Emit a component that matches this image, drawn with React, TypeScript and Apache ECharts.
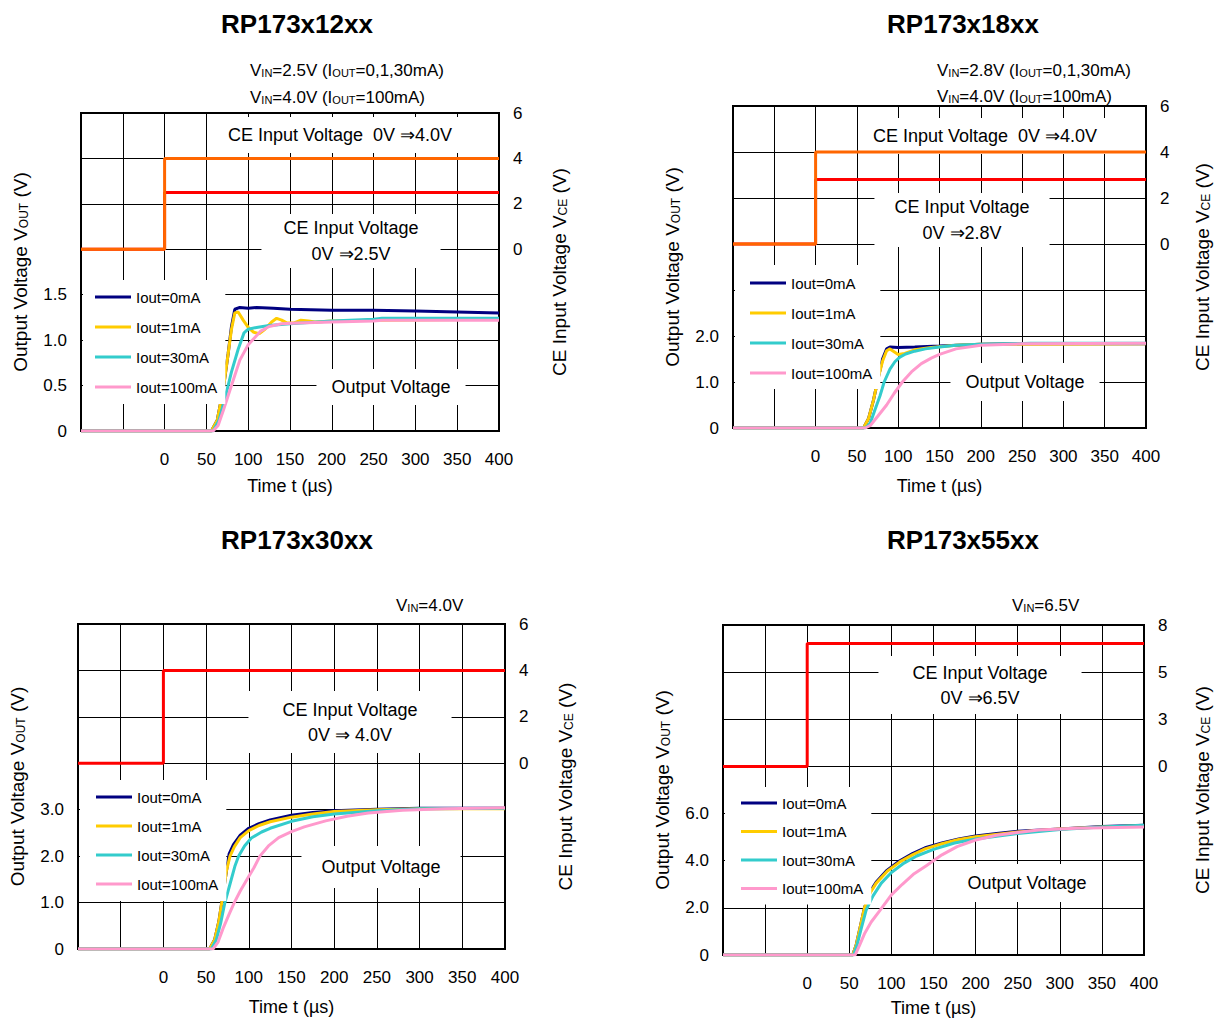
import React, { useEffect, useRef } from "react";
import * as echarts from "echarts";

const FONT = 'Arial, "Liberation Sans", Helvetica, sans-serif';

// ---------- data ----------
const TITLES = ["RP173x12xx", "RP173x18xx", "RP173x30xx", "RP173x55xx"];
const SERIES_NAMES = ["Iout=0mA", "Iout=1mA", "Iout=30mA", "Iout=100mA"];
const SERIES_COLORS = ["#000080", "#FFCC00", "#33CCCC", "#FF99CC"];

const T_MIN = -100;
const T_MAX = 400;
const T_STEP = 50;
const CE_STEP_TIME = 0;

// CE input levels per panel
const P1_CE_LEVELS = [2.5, 4.0];
const P2_CE_LEVELS = [2.8, 4.0];
const P3_CE_LEVELS = [4.0];
const P4_CE_LEVELS = [6.95];
const CE_COLORS_TWO = ["#FF0000", "#FF6600"];
const CE_COLORS_ONE = ["#FF0000"];

// Panel 1 : RP173x12xx  [time us, Vout V]
const P1_I0 = [[-100, 0], [56, 0], [63, 0.12], [70, 0.45], [76, 0.85], [80, 1.15], [84, 1.34], [90, 1.36], [100, 1.35], [110, 1.36], [130, 1.35], [150, 1.34], [200, 1.33], [250, 1.33], [300, 1.32], [350, 1.31], [400, 1.3]];
const P1_I1 = [[-100, 0], [56, 0], [63, 0.12], [70, 0.45], [76, 0.85], [80, 1.12], [84, 1.3], [88, 1.31], [94, 1.22], [100, 1.14], [106, 1.09], [113, 1.07], [120, 1.12], [128, 1.2], [134, 1.24], [140, 1.22], [146, 1.19], [155, 1.19], [163, 1.22], [172, 1.21], [180, 1.2], [200, 1.21], [250, 1.22], [400, 1.23]];
const P1_I30 = [[-100, 0], [58, 0], [65, 0.12], [72, 0.35], [80, 0.65], [88, 0.9], [95, 1.08], [100, 1.12], [110, 1.14], [125, 1.16], [150, 1.18], [200, 1.21], [250, 1.23], [260, 1.24], [400, 1.24]];
const P1_I100 = [[-100, 0], [58, 0], [64, 0.06], [70, 0.22], [80, 0.5], [90, 0.78], [100, 0.95], [108, 1.03], [115, 1.1], [125, 1.15], [140, 1.18], [160, 1.19], [200, 1.2], [250, 1.21], [260, 1.22], [400, 1.22]];

// Panel 2 : RP173x18xx
const P2_I0 = [[-100, 0], [58, 0], [64, 0.2], [70, 0.6], [76, 1.1], [81, 1.5], [86, 1.72], [90, 1.76], [100, 1.75], [120, 1.76], [150, 1.78], [200, 1.82], [250, 1.83], [400, 1.83]];
const P2_I1 = [[-100, 0], [58, 0], [64, 0.2], [70, 0.6], [76, 1.1], [81, 1.45], [86, 1.68], [90, 1.72], [95, 1.66], [100, 1.6], [108, 1.62], [120, 1.7], [140, 1.75], [170, 1.8], [200, 1.82], [400, 1.83]];
const P2_I30 = [[-100, 0], [60, 0], [66, 0.1], [72, 0.4], [78, 0.7], [83, 1.0], [90, 1.28], [96, 1.44], [102, 1.54], [109, 1.61], [120, 1.67], [133, 1.72], [150, 1.76], [170, 1.8], [200, 1.82], [260, 1.84], [400, 1.84]];
const P2_I100 = [[-100, 0], [60, 0], [66, 0.05], [75, 0.25], [86, 0.5], [95, 0.75], [105, 1.0], [116, 1.22], [128, 1.4], [140, 1.52], [150, 1.6], [170, 1.72], [200, 1.8], [250, 1.83], [400, 1.84]];

// Panel 3 : RP173x30xx
const P3_I0 = [[-100, 0], [54, 0], [60, 0.2], [65, 0.6], [70, 1.2], [74, 1.7], [77, 2.05], [82, 2.25], [90, 2.45], [100, 2.6], [112, 2.7], [125, 2.78], [150, 2.88], [175, 2.94], [200, 2.98], [250, 3.01], [300, 3.03], [400, 3.03]];
const P3_I1 = [[-100, 0], [54, 0], [60, 0.2], [65, 0.6], [70, 1.2], [74, 1.7], [78, 2.0], [83, 2.2], [90, 2.4], [100, 2.55], [112, 2.66], [125, 2.74], [150, 2.84], [175, 2.91], [200, 2.96], [250, 3.0], [300, 3.02], [400, 3.02]];
const P3_I30 = [[-100, 0], [56, 0], [62, 0.2], [67, 0.55], [72, 1.0], [78, 1.4], [84, 1.8], [88, 2.0], [95, 2.22], [103, 2.39], [115, 2.52], [125, 2.6], [150, 2.75], [175, 2.85], [200, 2.91], [250, 2.98], [300, 3.02], [400, 3.03]];
const P3_I100 = [[-100, 0], [58, 0], [64, 0.15], [70, 0.45], [77, 0.75], [83, 1.0], [90, 1.25], [98, 1.5], [106, 1.75], [113, 2.0], [123, 2.22], [135, 2.4], [150, 2.53], [165, 2.63], [190, 2.76], [215, 2.86], [240, 2.93], [280, 2.99], [330, 3.02], [400, 3.04]];

// Panel 4 : RP173x55xx
const P4_I0 = [[-100, 0], [54, 0], [58, 0.4], [63, 1.2], [68, 2.0], [75, 2.7], [82, 3.1], [95, 3.6], [110, 4.0], [125, 4.3], [140, 4.55], [160, 4.75], [180, 4.92], [200, 5.05], [225, 5.15], [250, 5.25], [300, 5.35], [350, 5.45], [400, 5.5]];
const P4_I1 = [[-100, 0], [54, 0], [58, 0.4], [63, 1.2], [68, 2.0], [75, 2.65], [82, 3.05], [95, 3.55], [110, 3.95], [125, 4.25], [140, 4.5], [160, 4.72], [180, 4.9], [200, 5.02], [250, 5.22], [300, 5.35], [350, 5.43], [400, 5.48]];
const P4_I30 = [[-100, 0], [55, 0], [59, 0.4], [64, 1.1], [70, 1.9], [78, 2.5], [88, 3.05], [100, 3.5], [115, 3.9], [130, 4.2], [150, 4.48], [175, 4.75], [200, 4.92], [250, 5.15], [300, 5.32], [350, 5.43], [400, 5.5]];
const P4_I100 = [[-100, 0], [57, 0], [62, 0.4], [68, 0.9], [76, 1.4], [86, 1.87], [100, 2.55], [113, 3.0], [127, 3.45], [141, 3.78], [160, 4.25], [178, 4.6], [200, 4.88], [225, 5.08], [250, 5.2], [275, 5.3], [320, 5.38], [400, 5.43]];

// axis scales
const P1_VOUT_AXIS = { min: 0, max: 3.5, interval: 0.5, labelMax: 1.5 };
const P2_VOUT_AXIS = { min: 0, max: 7, interval: 1, labelMax: 2 };
const P3_VOUT_AXIS = { min: 0, max: 7, interval: 1, labelMax: 3 };
const P4_VOUT_AXIS = { min: 0, max: 14, interval: 2, labelMax: 6 };
const CE_AXIS_A = { min: -8, max: 6, interval: 2 };
const CE_AXIS_B = { min: -32 / 3, max: 8, interval: 8 / 3 };

const P1_NOTES = ["{n|V}{s|IN}{n|=2.5V (I}{s|OUT}{n|=0,1,30mA)}", "{n|V}{s|IN}{n|=4.0V (I}{s|OUT}{n|=100mA)}"];
const P2_NOTES = ["{n|V}{s|IN}{n|=2.8V (I}{s|OUT}{n|=0,1,30mA)}", "{n|V}{s|IN}{n|=4.0V (I}{s|OUT}{n|=100mA)}"];
const P3_NOTES = ["{n|V}{s|IN}{n|=4.0V}"];
const P4_NOTES = ["{n|V}{s|IN}{n|=6.5V}"];

// ---------- layout ----------
type Box = { text: string; x: number; y: number; pad: number[]; lh?: number };
const PANELS = [
  {
    title: TITLES[0], titleX: 297, titleY: 24,
    grid: { left: 81, top: 113, width: 418, height: 318 },
    vout: P1_VOUT_AXIS, ce: CE_AXIS_A,
    traces: [P1_I0, P1_I1, P1_I30, P1_I100],
    ceLevels: P1_CE_LEVELS, ceColors: CE_COLORS_TWO,
    notes: P1_NOTES, noteX: 250, noteY: [70, 97],
    legend: { left: 83, top: 280, padding: [9, 8, 9, 12], gap: 14 },
    boxes: [
      { text: "CE Input Voltage  0V ⇒4.0V", x: 340, y: 135, pad: [7, 8] },
      { text: "CE Input Voltage\n0V ⇒2.5V", x: 351, y: 241, pad: [1, 22], lh: 26 },
      { text: "Output Voltage", x: 391, y: 387, pad: [7, 15] },
    ] as Box[],
    xNameGap: 46,
    rightNameGap: 51,
  },
  {
    title: TITLES[1], titleX: 963, titleY: 24,
    grid: { left: 733, top: 106, width: 413, height: 322 },
    vout: P2_VOUT_AXIS, ce: CE_AXIS_A,
    traces: [P2_I0, P2_I1, P2_I30, P2_I100],
    ceLevels: P2_CE_LEVELS, ceColors: CE_COLORS_TWO,
    notes: P2_NOTES, noteX: 937, noteY: [70, 96],
    legend: { left: 735, top: 265, padding: [10, 8, 8, 15], gap: 14 },
    boxes: [
      { text: "CE Input Voltage  0V ⇒4.0V", x: 985, y: 136, pad: [7, 8] },
      { text: "CE Input Voltage\n0V ⇒2.8V", x: 962, y: 220, pad: [1, 20], lh: 26 },
      { text: "Output Voltage", x: 1025, y: 382, pad: [8, 15] },
    ] as Box[],
    xNameGap: 49,
    rightNameGap: 47,
  },
  {
    title: TITLES[2], titleX: 297, titleY: 540,
    grid: { left: 78, top: 624, width: 427, height: 325 },
    vout: P3_VOUT_AXIS, ce: CE_AXIS_A,
    traces: [P3_I0, P3_I1, P3_I30, P3_I100],
    ceLevels: P3_CE_LEVELS, ceColors: CE_COLORS_ONE,
    notes: P3_NOTES, noteX: 396, noteY: [605],
    legend: { left: 80, top: 780, padding: [9, 8, 9, 16], gap: 13 },
    boxes: [
      { text: "CE Input Voltage\n0V ⇒ 4.0V", x: 350, y: 722, pad: [6, 34], lh: 25 },
      { text: "Output Voltage", x: 381, y: 867, pad: [10, 20] },
    ] as Box[],
    xNameGap: 49,
    rightNameGap: 51,
  },
  {
    title: TITLES[3], titleX: 963, titleY: 540,
    grid: { left: 723, top: 625, width: 421, height: 330 },
    vout: P4_VOUT_AXIS, ce: CE_AXIS_B,
    traces: [P4_I0, P4_I1, P4_I30, P4_I100],
    ceLevels: P4_CE_LEVELS, ceColors: CE_COLORS_ONE,
    notes: P4_NOTES, noteX: 1012, noteY: [605],
    legend: { left: 725, top: 787, padding: [8, 8, 8, 16], gap: 12.5 },
    boxes: [
      { text: "CE Input Voltage\n0V ⇒6.5V", x: 980, y: 685, pad: [4, 34], lh: 25 },
      { text: "Output Voltage", x: 1027, y: 883, pad: [8, 15] },
    ] as Box[],
    xNameGap: 44,
    rightNameGap: 49,
  },
];

const RICH_NOTE = {
  n: { fontSize: 17, fontFamily: FONT, color: "#000" },
  s: { fontSize: 11, fontFamily: FONT, color: "#000", verticalAlign: "bottom" },
};
const RICH_AXIS = {
  n: { fontSize: 19, fontFamily: FONT, color: "#000" },
  s: { fontSize: 12, fontFamily: FONT, color: "#000", verticalAlign: "bottom" },
};

function buildOption() {
  const grid: any[] = [];
  const xAxis: any[] = [];
  const yAxis: any[] = [];
  const series: any[] = [];
  const legend: any[] = [];
  const graphic: any[] = [];

  PANELS.forEach((p, i) => {
    grid.push({
      ...p.grid,
      show: true,
      borderColor: "#000",
      borderWidth: 2,
      backgroundColor: "#fff",
      containLabel: false,
      outerBoundsMode: "none",
    });
    xAxis.push({
      type: "value",
      gridIndex: i,
      min: T_MIN,
      max: T_MAX,
      interval: T_STEP,
      axisLine: { show: false },
      axisTick: { show: false },
      splitLine: { show: true, lineStyle: { color: "#000", width: 1, type: "solid" } },
      axisLabel: {
        show: true,
        color: "#000",
        fontSize: 17,
        fontFamily: FONT,
        margin: 20,
        formatter: (v: number) => (v < 0 ? "" : String(v)),
      },
      name: "Time t (µs)",
      nameLocation: "middle",
      nameGap: p.xNameGap,
      nameTextStyle: { fontSize: 18, fontFamily: FONT, color: "#000" },
    });
    yAxis.push({
      type: "value",
      gridIndex: i,
      position: "left",
      min: p.vout.min,
      max: p.vout.max,
      interval: p.vout.interval,
      axisLine: { show: false },
      axisTick: { show: false },
      splitLine: { show: true, lineStyle: { color: "#000", width: 1, type: "solid" } },
      axisLabel: {
        color: "#000",
        fontSize: 17,
        fontFamily: FONT,
        margin: 14,
        formatter: (v: number) => (v > p.vout.labelMax + 1e-6 ? "" : v === 0 ? "0" : v.toFixed(1)),
      },
      name: "{n|Output Voltage V}{s|OUT}{n| (V)}",
      nameLocation: "middle",
      nameGap: 51,
      nameTextStyle: { rich: RICH_AXIS },
    });
    yAxis.push({
      type: "value",
      gridIndex: i,
      position: "right",
      min: p.ce.min,
      max: p.ce.max,
      interval: p.ce.interval,
      axisLine: { show: false },
      axisTick: { show: false },
      splitLine: { show: false },
      axisLabel: {
        color: "#000",
        fontSize: 17,
        fontFamily: FONT,
        margin: 14,
        formatter: (v: number) => (v < -0.01 ? "" : String(Math.round(v))),
      },
      name: "{n|CE Input Voltage V}{s|CE}{n| (V)}",
      nameLocation: "middle",
      nameGap: p.rightNameGap,
      nameTextStyle: { rich: RICH_AXIS },
    });

    // CE step lines
    p.ceLevels.forEach((lvl, k) => {
      series.push({
        type: "line",
        name: "CE " + lvl + "V",
        xAxisIndex: i,
        yAxisIndex: 2 * i + 1,
        data: [[T_MIN, 0], [CE_STEP_TIME, 0], [CE_STEP_TIME, lvl], [T_MAX, lvl]],
        showSymbol: false,
        symbol: "none",
        silent: true,
        color: p.ceColors[k],
        lineStyle: { color: p.ceColors[k], width: 3 },
        z: 2,
      });
    });

    // Vout traces
    p.traces.forEach((d, k) => {
      series.push({
        type: "line",
        name: SERIES_NAMES[k],
        xAxisIndex: i,
        yAxisIndex: 2 * i,
        data: d,
        showSymbol: false,
        symbol: "none",
        silent: true,
        color: SERIES_COLORS[k],
        itemStyle: { color: SERIES_COLORS[k] },
        lineStyle: { color: SERIES_COLORS[k], width: 3 },
        z: 3,
      });
    });

    legend.push({
      data: SERIES_NAMES,
      orient: "vertical",
      left: p.legend.left,
      top: p.legend.top,
      padding: p.legend.padding,
      itemGap: p.legend.gap,
      backgroundColor: "#fff",
      icon: "rect",
      itemWidth: 36,
      itemHeight: 3,
      selectedMode: false,
      textStyle: { fontSize: 15, lineHeight: 16, fontFamily: FONT, color: "#000" },
      z: 4,
    });

    graphic.push({
      type: "text",
      x: p.titleX,
      y: p.titleY,
      z: 10,
      style: {
        text: p.title,
        fontSize: 26,
        fontWeight: "bold",
        fontFamily: FONT,
        fill: "#000",
        align: "center",
        verticalAlign: "middle",
      },
    });
    p.notes.forEach((t, k) => {
      graphic.push({
        type: "text",
        x: p.noteX,
        y: p.noteY[k],
        z: 10,
        style: {
          text: t,
          rich: RICH_NOTE,
          align: "left",
          verticalAlign: "middle",
        },
      });
    });
    p.boxes.forEach((b) => {
      graphic.push({
        type: "text",
        x: b.x,
        y: b.y,
        z: 1,
        style: {
          text: b.text,
          fontSize: 18,
          fontFamily: FONT,
          fill: "#000",
          align: "center",
          verticalAlign: "middle",
          lineHeight: b.lh || 22,
          backgroundColor: "#fff",
          padding: b.pad,
        },
      });
    });
  });

  return {
    animation: false,
    backgroundColor: "#fff",
    textStyle: { fontFamily: FONT },
    grid,
    xAxis,
    yAxis,
    series,
    legend,
    graphic: { elements: graphic },
  };
}

export default function App() {
  const ref = useRef<HTMLDivElement>(null);
  useEffect(() => {
    if (!ref.current) return;
    const chart = echarts.init(ref.current, undefined, { renderer: "svg" });
    chart.setOption(buildOption() as any);
    return () => chart.dispose();
  }, []);
  return (
    <div
      ref={ref}
      style={{ position: "fixed", left: 0, top: 0, width: 1215, height: 1018, background: "#fff" }}
    />
  );
}
